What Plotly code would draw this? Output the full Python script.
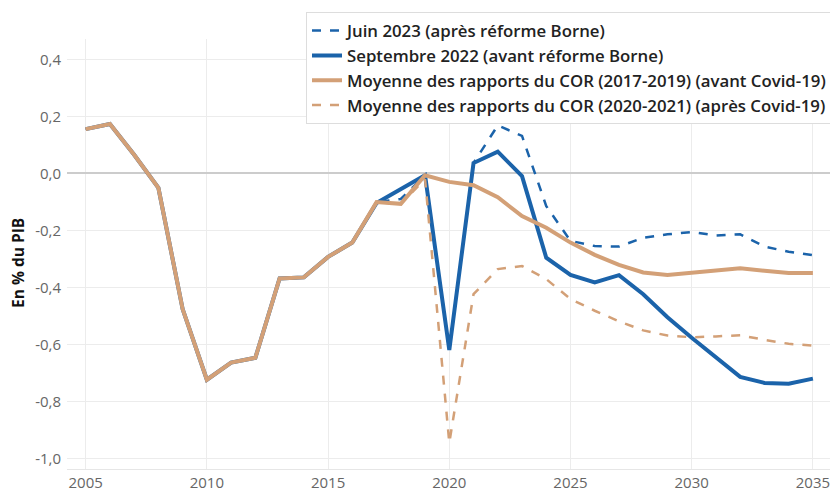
import plotly.graph_objects as go

years = list(range(2005, 2036))

hist = [0.155, 0.173, 0.065, -0.051, -0.476, -0.724, -0.664, -0.647, -0.369, -0.365,
        -0.293, -0.243]

juin_2023 = hist + [-0.101, -0.090, -0.007,
                    -0.620, 0.036, 0.168, 0.131, -0.115, -0.237, -0.255, -0.257, -0.226,
                    -0.214, -0.206, -0.218, -0.214, -0.257, -0.275, -0.287]

sept_2022 = hist + [-0.104, -0.055, -0.007,
                    -0.620, 0.036, 0.076, -0.010, -0.296, -0.356, -0.383, -0.357, -0.424,
                    -0.505, -0.577, -0.645, -0.714, -0.735, -0.738, -0.720]

cor_2017_2019 = hist + [-0.101, -0.107, -0.007,
                        -0.030, -0.042, -0.084, -0.150, -0.191, -0.243, -0.286, -0.321, -0.348,
                        -0.357, -0.350, -0.342, -0.333, -0.342, -0.350, -0.350]

cor_2020_2021 = hist + [-0.101, -0.107, -0.021,
                        -0.945, -0.424, -0.336, -0.325, -0.371, -0.441, -0.482, -0.519, -0.551,
                        -0.569, -0.575, -0.572, -0.568, -0.584, -0.598, -0.604]

names = [
    "Juin 2023 (après réforme Borne)",
    "Septembre 2022 (avant réforme Borne)",
    "Moyenne des rapports du COR (2017-2019) (avant Covid-19)",
    "Moyenne des rapports du COR (2020-2021) (après Covid-19)",
]

y_title = "En % du PIB"
x_ticks = [2005, 2010, 2015, 2020, 2025, 2030, 2035]
y_ticks = [0.4, 0.2, 0.0, -0.2, -0.4, -0.6, -0.8, -1.0]
y_tick_labels = ["0,4", "0,2", "0,0", "-0,2", "-0,4", "-0,6", "-0,8", "-1,0"]

BLUE = "#1b63aa"
BROWN = "#d3a077"

fig = go.Figure()
fig.add_trace(go.Scatter(x=years, y=juin_2023, mode="lines", name=names[0],
                         line=dict(color=BLUE, width=2.5, dash="dash")))
fig.add_trace(go.Scatter(x=years, y=sept_2022, mode="lines", name=names[1],
                         line=dict(color=BLUE, width=4)))
fig.add_trace(go.Scatter(x=years, y=cor_2017_2019, mode="lines", name=names[2],
                         line=dict(color=BROWN, width=4)))
fig.add_trace(go.Scatter(x=years, y=cor_2020_2021, mode="lines", name=names[3],
                         line=dict(color=BROWN, width=2.5, dash="dash")))

PH = 432.0
PW = 767.0

fig.add_annotation(
    text="<b>" + y_title + "</b>", textangle=-90,
    xref="paper", yref="paper",
    x=(18 - 67) / PW, y=(469 - 262) / PH,
    xanchor="center", yanchor="middle", showarrow=False,
    font=dict(size=15.5, color="#111111"),
)

fig.update_layout(
    width=830, height=487,
    margin=dict(l=59, r=4, t=29, b=26),
    paper_bgcolor="white", plot_bgcolor="white",
    font=dict(family="Open Sans, Noto Sans, sans-serif", size=15, color="#666666"),
    showlegend=True,
    legend=dict(
        x=(306 - 67) / PW, xanchor="left", y=1 + (469 - 10 - PH) / PH, yanchor="top",
        bgcolor="white", bordercolor="#dddddd", borderwidth=1,
        font=dict(size=16.8, color="#222222", weight=600),
        tracegroupgap=0,
    ),
    xaxis=dict(
        range=[2004.23, 2035.87],
        tickvals=x_ticks,
        showgrid=True, gridcolor="#ececec", gridwidth=1,
        zeroline=False,
        showline=True, linecolor="#e6e6e6", linewidth=1,
        ticks="", tickfont=dict(size=15, color="#666666"),
    ),
    yaxis=dict(
        range=[-1.037, 0.471],
        tickvals=y_ticks, ticktext=y_tick_labels,
        showgrid=True, gridcolor="#ececec", gridwidth=1,
        zeroline=True, zerolinecolor="#cccccc", zerolinewidth=2,
        ticks="", ticklabelstandoff=5, tickfont=dict(size=15, color="#666666"),
    ),
)

fig.write_html("out.html")
